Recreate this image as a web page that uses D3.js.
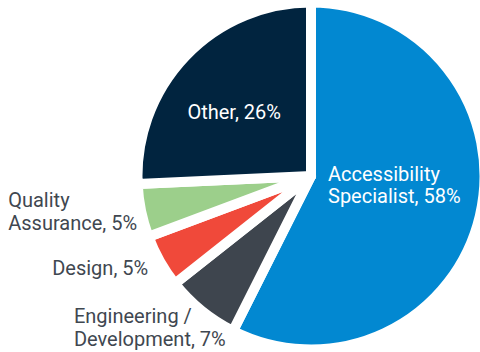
<!DOCTYPE html>
<html>
<head>
<meta charset="utf-8">
<script src="https://cdn.jsdelivr.net/npm/d3@7"></script>
<style>
  html, body { margin: 0; padding: 0; background: #ffffff; }
  svg { display: block; }
  text { font-family: Roboto, "Noto Sans", sans-serif; }
</style>
</head>
<body>
<svg id="chart" width="480" height="352"></svg>
<script>
// Job roles and their share of respondents (percent)
const categories = ["Accessibility Specialist", "Engineering / Development", "Design", "Quality Assurance", "Other"];
const shares = [58, 7, 5, 5, 26];
const colors = ["#0288d1", "#3e454e", "#f0493a", "#9ccf8b", "#01243f"];

// Small per-label nudges (px) applied after anchoring on the arc
const labelNudge = [[-14, -14], [26, 15], [-9.5, 5.5], [-1.5, 0], [-4.5, 5]];

const width = 480, height = 352;
const cx = 311, cy = 176;
const radius = 173.5;
const gap = 10;
const fontSize = 20;
const lineHeight = 22.5;

const svg = d3.select("#chart");
const g = svg.append("g").attr("transform", `translate(${cx},${cy})`);

const pie = d3.pie().sort(null).value(d => d.value);
const data = categories.map((c, i) => ({ name: c, value: shares[i], color: colors[i], i }));
const arcs = pie(data);

const arc = d3.arc().innerRadius(0).outerRadius(radius);
const insideArc = d3.arc().innerRadius(100).outerRadius(100);
const outsideArc = d3.arc().innerRadius(176).outerRadius(176);

g.selectAll("path.slice")
  .data(arcs)
  .join("path")
  .attr("class", "slice")
  .attr("d", arc)
  .attr("fill", d => d.data.color)
  .attr("stroke", "#ffffff")
  .attr("stroke-width", gap)
  .attr("stroke-linejoin", "round");

// Split "Category, N%" onto two lines when the category has several words
function labelLines(d) {
  const words = d.data.name.split(" ");
  const pct = `${d.data.value}%`;
  if (words.length === 1) return [`${words[0]}, ${pct}`];
  return [words.slice(0, -1).join(" "), `${words[words.length - 1]}, ${pct}`];
}

arcs.forEach(d => {
  const inside = d.data.value > 10;
  const lines = labelLines(d);
  const [ax, ay] = (inside ? insideArc : outsideArc).centroid(d);
  const [nx, ny] = labelNudge[d.data.i];

  const t = g.append("text")
    .attr("font-size", fontSize)
    .attr("fill", inside ? "#ffffff" : "#3f4750");

  const spans = lines.map(line => t.append("tspan").text(line));
  const w = d3.max(spans, s => s.node().getComputedTextLength());

  // block center y (cap-height centered)
  const midY = ay + ny;
  const firstBase = midY - (lines.length - 1) * lineHeight / 2 + 0.355 * fontSize;
  const left = inside
    ? ax + nx - w / 2   // centered on the arc point
    : ax + nx - w;      // right edge on the arc point

  spans.forEach((s, k) => s.attr("x", left).attr("y", firstBase + k * lineHeight));
});
</script>
</body>
</html>
